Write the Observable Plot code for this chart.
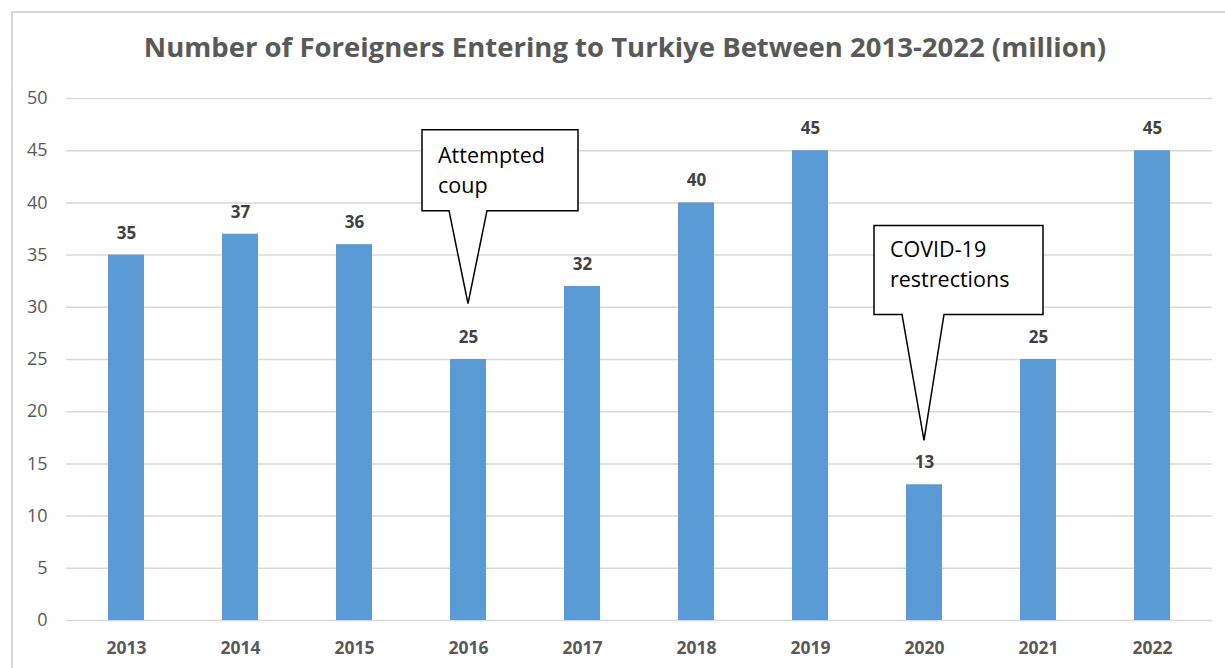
<!DOCTYPE html>
<html>
<head>
<meta charset="utf-8">
<script src="https://cdn.jsdelivr.net/npm/d3@7"></script>
<script src="https://cdn.jsdelivr.net/npm/@observablehq/plot@0.6"></script>
<style>
  html, body { margin: 0; padding: 0; background: #fff; overflow: hidden; }
  #wrap { position: relative; width: 1225px; height: 668px; overflow: hidden; }
  #frame { position: absolute; left: 11px; top: 11px; width: 1240px; height: 690px; border: 2px solid #d9d9d9; box-sizing: border-box; }
  #title { position: absolute; top: 28px; left: 0; width: 1250px; text-align: center;
           font: bold 27.5px "Open Sans", sans-serif; color: #595959; white-space: nowrap; }
  #chart { position: absolute; left: 0; top: 80px; }
  .chart g[aria-label^="x-axis"] text { font-weight: bold; font-size: 17.5px; fill: #595959; }
  .chart g[aria-label^="y-axis"] text { font-size: 18px; fill: #595959; }
</style>
</head>
<body>
<div id="wrap">
  <div id="frame"></div>
  <div id="title">Number of Foreigners Entering to Turkiye Between 2013-2022 (million)</div>
  <div id="chart"></div>
</div>
<script>
const years = ["2013","2014","2015","2016","2017","2018","2019","2020","2021","2022"];
const visitors = [35, 37, 36, 25, 32, 40, 45, 13, 25, 45];
const yTicks = [0, 5, 10, 15, 20, 25, 30, 35, 40, 45, 50];
const calloutYears = ["2016", "2020"];
const calloutLines = [["Attempted", "coup"], ["COVID-19", "restrections"]];
const calloutTips = [30.3, 17.2];

const data = years.map((year, i) => ({year, value: visitors[i]}));

// callout box geometry relative to the pointer tip (pixels)
const calloutBoxes = [
  {left: -46, right: 110, top: -174, bottom: -93, b0: -19, b1: 19, line1: -141},
  {left: -50, right: 119, top: -215, bottom: -126, b0: -22, b1: 20, line1: -183}
];

function callouts(index, scales) {
  const x = scales.x, y = scales.y;
  const bw = x.bandwidth ? x.bandwidth() : 0;
  const g = d3.create("svg:g").attr("aria-label", "callouts");
  calloutYears.forEach((yr, i) => {
    const tx = x(yr) + bw / 2, ty = y(calloutTips[i]);
    const b = calloutBoxes[i];
    const p = `M${tx + b.left},${ty + b.top}H${tx + b.right}V${ty + b.bottom}H${tx + b.b1}L${tx},${ty}L${tx + b.b0},${ty + b.bottom}H${tx + b.left}Z`;
    g.append("path").attr("d", p).attr("fill", "#fff").attr("stroke", "#000").attr("stroke-width", 1.5).attr("stroke-linejoin", "miter");
    calloutLines[i].forEach((line, j) => {
      g.append("text")
        .attr("x", tx + b.left + 16)
        .attr("y", ty + b.line1 + j * 30)
        .attr("text-anchor", "start")
        .attr("font-family", "Open Sans, sans-serif")
        .attr("font-size", 21.5)
        .attr("fill", "#000")
        .text(line);
    });
  });
  return g.node();
}

const chart = Plot.plot({
  className: "chart",
  width: 1225,
  height: 588,
  marginTop: 18,
  marginBottom: 48,
  marginLeft: 66,
  marginRight: 13,
  style: {fontFamily: "Open Sans, sans-serif", fontSize: "18px", color: "#595959", background: "transparent", overflow: "visible"},
  x: {type: "band", domain: years, paddingInner: 0.686, paddingOuter: 0.343, tickSize: 0, tickPadding: 21, label: null},
  y: {domain: [0, 50], ticks: yTicks, tickSize: 0, tickPadding: 19, label: null},
  marks: [
    Plot.ruleY(yTicks, {stroke: "#d9d9d9", strokeWidth: 1.5}),
    Plot.barY(data, {x: "year", y: "value", fill: "#5b9bd5"}),
    Plot.text(data, {x: "year", y: "value", text: d => String(d.value), dy: -22, fontWeight: "bold", fontSize: 17, fill: "#404040"}),
    callouts
  ]
});
document.getElementById("chart").appendChild(chart);
</script>
</body>
</html>
